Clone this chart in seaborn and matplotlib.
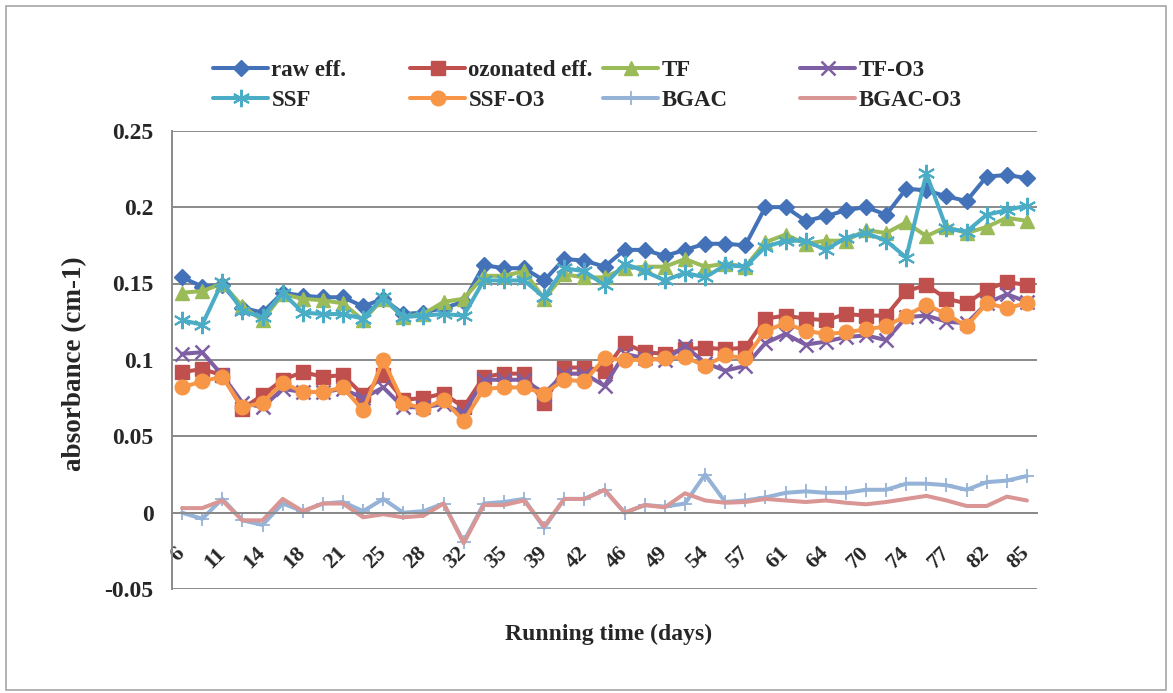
import numpy as np
import pandas as pd
import matplotlib
matplotlib.use("Agg")
import matplotlib.pyplot as plt
from matplotlib.patches import Rectangle
from matplotlib.ticker import FixedLocator
import seaborn as sns

# ---------------- data ----------------
day_labels = ["6", "11", "14", "18", "21", "25", "28", "32", "35", "39", "42",
              "46", "49", "54", "57", "61", "64", "70", "74", "77", "82", "85"]

raw_eff = [0.154, 0.148, 0.149, 0.134, 0.131, 0.144, 0.142, 0.141, 0.141, 0.135, 0.140,
           0.130, 0.131, 0.134, 0.138, 0.162, 0.160, 0.160, 0.152, 0.166, 0.165, 0.161,
           0.172, 0.172, 0.168, 0.172, 0.176, 0.176, 0.175, 0.200, 0.200, 0.191, 0.194,
           0.198, 0.200, 0.195, 0.212, 0.211, 0.207, 0.204, 0.220, 0.221, 0.219]
ozonated_eff = [0.092, 0.094, 0.090, 0.068, 0.077, 0.087, 0.092, 0.089, 0.090, 0.077, 0.090,
                0.074, 0.075, 0.078, 0.069, 0.089, 0.091, 0.091, 0.072, 0.095, 0.095, 0.093,
                0.111, 0.105, 0.104, 0.107, 0.108, 0.107, 0.108, 0.127, 0.129, 0.127, 0.126,
                0.130, 0.129, 0.129, 0.145, 0.149, 0.140, 0.137, 0.146, 0.151, 0.149]
tf = [0.144, 0.145, 0.150, 0.135, 0.126, 0.143, 0.140, 0.139, 0.137, 0.126, 0.140,
      0.128, 0.130, 0.138, 0.140, 0.155, 0.155, 0.158, 0.140, 0.156, 0.154, 0.154,
      0.160, 0.161, 0.161, 0.166, 0.161, 0.163, 0.161, 0.177, 0.182, 0.176, 0.178,
      0.178, 0.185, 0.183, 0.190, 0.181, 0.187, 0.183, 0.187, 0.193, 0.191]
tf_o3 = [0.104, 0.105, 0.090, 0.072, 0.069, 0.081, 0.079, 0.079, 0.081, 0.075, 0.082,
         0.069, 0.069, 0.071, 0.065, 0.087, 0.087, 0.087, 0.078, 0.091, 0.091, 0.083,
         0.104, 0.101, 0.100, 0.109, 0.098, 0.093, 0.096, 0.111, 0.117, 0.110, 0.112,
         0.115, 0.116, 0.113, 0.128, 0.129, 0.125, 0.124, 0.137, 0.143, 0.138]
ssf = [0.126, 0.123, 0.151, 0.132, 0.128, 0.144, 0.131, 0.130, 0.130, 0.127, 0.141,
       0.128, 0.129, 0.130, 0.129, 0.152, 0.152, 0.152, 0.141, 0.160, 0.158, 0.149,
       0.163, 0.158, 0.152, 0.157, 0.154, 0.162, 0.161, 0.174, 0.178, 0.178, 0.172,
       0.180, 0.183, 0.178, 0.167, 0.222, 0.186, 0.184, 0.195, 0.198, 0.201]
ssf_o3 = [0.082, 0.086, 0.089, 0.069, 0.072, 0.085, 0.079, 0.079, 0.082, 0.067, 0.100,
          0.072, 0.068, 0.074, 0.060, 0.081, 0.082, 0.082, 0.078, 0.087, 0.086, 0.101,
          0.100, 0.100, 0.101, 0.102, 0.096, 0.103, 0.101, 0.119, 0.124, 0.119, 0.117,
          0.118, 0.120, 0.122, 0.129, 0.136, 0.130, 0.122, 0.137, 0.134, 0.137]
bgac = [0.000, -0.004, 0.009, -0.005, -0.008, 0.006, 0.001, 0.006, 0.007, 0.001, 0.009,
        0.000, 0.001, 0.006, -0.019, 0.006, 0.007, 0.009, -0.010, 0.009, 0.009, 0.015,
        0.000, 0.005, 0.004, 0.006, 0.025, 0.007, 0.008, 0.010, 0.013, 0.014, 0.013,
        0.013, 0.015, 0.015, 0.019, 0.019, 0.018, 0.015, 0.020, 0.021, 0.024]
bgac_o3 = [0.003, 0.003, 0.008, -0.005, -0.005, 0.009, 0.001, 0.006, 0.006, -0.003, -0.001,
           -0.003, -0.002, 0.006, -0.020, 0.005, 0.005, 0.008, -0.009, 0.009, 0.009, 0.015,
           0.000, 0.005, 0.0035, 0.0127, 0.008, 0.0065, 0.007, 0.009, 0.008, 0.007, 0.008,
           0.0065, 0.0055, 0.007, 0.009, 0.011, 0.008, 0.0044, 0.0044, 0.0105, 0.008]

series_names = ["raw eff.", "ozonated eff.", "TF", "TF-O3", "SSF", "SSF-O3", "BGAC", "BGAC-O3"]
series_values = [raw_eff, ozonated_eff, tf, tf_o3, ssf, ssf_o3, bgac, bgac_o3]

# ---------------- style ----------------
sns.set_style("white")
plt.rcParams["font.family"] = ["Liberation Serif", "DejaVu Serif"]
plt.rcParams["font.weight"] = "bold"

colors = ["#4472B8", "#C0504D", "#9BBB59", "#7F5FA3", "#4BACC6", "#F79646", "#95B3D7", "#D99694"]
markers = ["D", "s", "^", "x", (6, 2, 0), "o", "+", None]
msizes = [8, 9.5, 10, 9.5, 12.5, 10.5, 10, 0]
mews = [1, 1, 1, 1.8, 1.5, 1, 1.3, 0]

W, H = 1173, 693
fig = plt.figure(figsize=(W / 100, H / 100), dpi=100)
x0, x1 = 172, 1037
y_top, y_bot = 130.7, 589.1
ax = fig.add_axes([x0 / W, 1 - y_bot / H, (x1 - x0) / W, (y_bot - y_top) / H])

positions = np.arange(len(raw_eff))
handles = []
for name, vals, c, m, ms, mew in zip(series_names, series_values, colors, markers, msizes, mews):
    df = pd.DataFrame({"pos": positions, "val": vals})
    kw = dict(color=c, linewidth=2.9, legend=False)
    if m is not None:
        kw.update(marker=m, markersize=ms, markeredgecolor=c, markerfacecolor=c, markeredgewidth=mew)
    sns.lineplot(data=df, x="pos", y="val", ax=ax, **kw)
    line = ax.lines[-1]
    line.set_label(name)
    handles.append(line)

# axes
ax.set_xlim(-0.5, len(raw_eff) - 0.5)
ax.set_ylim(-0.05, 0.25)
yt = [-0.05, 0, 0.05, 0.1, 0.15, 0.2, 0.25]
ax.set_yticks(yt)
ax.set_yticklabels(["-0.05", "0", "0.05", "0.1", "0.15", "0.2", "0.25"])
ax.yaxis.grid(True, color="#8A8A8A", linewidth=1.4)
ax.set_axisbelow(True)
for s in ["top", "right"]:
    ax.spines[s].set_visible(False)
ax.spines["left"].set_color("#8A8A8A")
ax.spines["left"].set_linewidth(1.4)
ax.spines["bottom"].set_position(("data", 0))
ax.spines["bottom"].set_color("#8A8A8A")
ax.spines["bottom"].set_linewidth(1.4)

ax.set_xticks(positions[::2])
ax.set_xticklabels(day_labels)
ax.xaxis.set_minor_locator(FixedLocator(np.arange(-0.5, len(raw_eff), 1.0)))
ax.tick_params(axis="x", which="major", length=0, pad=27, labelsize=16)
ax.tick_params(axis="x", which="minor", length=4.5, width=1.2, color="#8A8A8A", direction="out")
ax.tick_params(axis="y", which="major", length=4.3, width=1.2, color="#8A8A8A", direction="out",
               labelsize=17, pad=9)
for lab in ax.get_xticklabels():
    lab.set_rotation(45)
    lab.set_ha("right")
    lab.set_va("center")
    lab.set_rotation_mode("anchor")
    lab.set_fontweight("bold")
for lab in ax.get_yticklabels():
    lab.set_fontweight("bold")

ax.set_xlabel("")
ax.set_ylabel("")
fig.text(609 / W, 1 - 634 / H, "Running time (days)", ha="center", va="center",
         fontsize=17, fontweight="bold")
fig.text(75 / W, 1 - 364 / H, "absorbance (cm-1)", ha="center", va="center",
         rotation=90, fontsize=19.5, fontweight="bold")

# legend: four columns of two rows, Excel-style equal spacing
col_x = [213, 410, 603, 800]
order = [(0, 4), (1, 5), (2, 6), (3, 7)]
for cx, (a, b) in zip(col_x, order):
    fig.legend(handles=[handles[a], handles[b]], labels=[series_names[a], series_names[b]],
               loc="upper left", bbox_to_anchor=(cx / W, 1 - 60 / H), frameon=False,
               borderpad=0, borderaxespad=0, handlelength=2.4, handletextpad=0.15,
               labelspacing=0.38, prop={"family": ["Liberation Serif"], "weight": "bold", "size": 16.5})

# outer frame
fig.patches.append(Rectangle((6 / W, 3 / H), (1166 - 6) / W, (687 - 3) / H, transform=fig.transFigure,
                             fill=False, edgecolor="#A6A6A6", linewidth=1.2))

fig.savefig("out.png", dpi=100)
